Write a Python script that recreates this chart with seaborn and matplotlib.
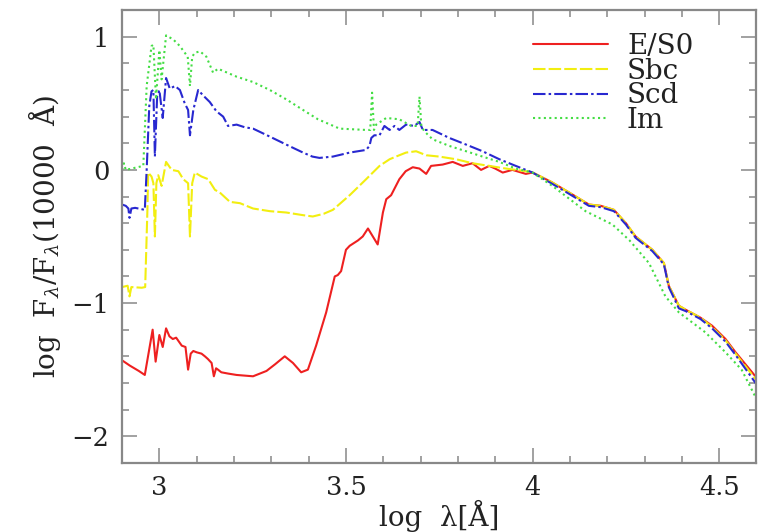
import matplotlib
matplotlib.use("Agg")
import matplotlib.pyplot as plt
import seaborn as sns
import pandas as pd
from matplotlib.ticker import MultipleLocator

# ---- data ----
es0_x = [2.900, 2.921, 2.945, 2.961, 2.982, 2.990, 3.000, 3.009, 3.018, 3.027, 3.036, 3.045,
         3.060, 3.070, 3.077, 3.084, 3.091, 3.100, 3.113, 3.122, 3.130, 3.140, 3.146, 3.152,
         3.157, 3.166, 3.185, 3.207, 3.251, 3.287, 3.310, 3.336, 3.358, 3.380, 3.398, 3.420,
         3.447, 3.470, 3.478, 3.487, 3.500, 3.510, 3.532, 3.545, 3.559, 3.572, 3.585, 3.599,
         3.608, 3.621, 3.643, 3.660, 3.679, 3.697, 3.715, 3.728, 3.759, 3.786, 3.813, 3.839,
         3.862, 3.884, 3.900, 3.920, 3.946, 3.982, 4.000, 4.050, 4.098, 4.151, 4.183, 4.218,
         4.250, 4.276, 4.321, 4.352, 4.365, 4.392, 4.410, 4.450, 4.481, 4.517, 4.544, 4.600]
es0_y = [-1.43, -1.47, -1.51, -1.54, -1.20, -1.44, -1.24, -1.33, -1.19, -1.25, -1.27, -1.26,
         -1.32, -1.33, -1.50, -1.38, -1.36, -1.37, -1.38, -1.40, -1.42, -1.45, -1.55, -1.49,
         -1.50, -1.52, -1.53, -1.54, -1.55, -1.51, -1.46, -1.40, -1.45, -1.52, -1.50, -1.32,
         -1.07, -0.80, -0.79, -0.76, -0.60, -0.57, -0.53, -0.50, -0.44, -0.50, -0.56, -0.32,
         -0.22, -0.19, -0.07, -0.01, 0.02, 0.01, -0.03, 0.03, 0.04, 0.06, 0.03, 0.05,
         0.00, 0.03, 0.01, -0.02, 0.00, -0.03, -0.02, -0.09, -0.17, -0.26, -0.27, -0.30,
         -0.40, -0.50, -0.60, -0.70, -0.87, -1.02, -1.05, -1.11, -1.17, -1.27, -1.37, -1.56]

sbc_x = [2.900, 2.915, 2.920, 2.925, 2.953, 2.962, 2.968, 2.970, 2.979, 2.984, 2.988, 2.992,
         2.997, 3.006, 3.018, 3.033, 3.051, 3.064, 3.077, 3.082, 3.088, 3.095, 3.113, 3.131,
         3.149, 3.162, 3.189, 3.216, 3.251, 3.296, 3.340, 3.385, 3.411, 3.440, 3.465, 3.510,
         3.554, 3.590, 3.617, 3.634, 3.661, 3.688, 3.715, 3.750, 3.795, 3.839, 3.884, 3.929,
         3.982, 4.000, 4.050, 4.098, 4.151, 4.183, 4.218, 4.250, 4.276, 4.321, 4.352, 4.365,
         4.392, 4.410, 4.450, 4.481, 4.517, 4.544, 4.600]
sbc_y = [-0.88, -0.87, -0.95, -0.88, -0.885, -0.88, -0.30, -0.02, -0.05, -0.10, -0.50, -0.10,
         -0.04, -0.12, 0.06, 0.00, -0.01, -0.07, -0.10, -0.50, -0.10, -0.02, -0.05, -0.07,
         -0.15, -0.17, -0.24, -0.25, -0.29, -0.31, -0.32, -0.34, -0.35, -0.33, -0.30, -0.19,
         -0.07, 0.03, 0.08, 0.10, 0.13, 0.14, 0.11, 0.10, 0.08, 0.05, 0.03, 0.01,
         -0.01, -0.02, -0.09, -0.17, -0.26, -0.27, -0.30, -0.40, -0.50, -0.60, -0.70, -0.87,
         -1.02, -1.05, -1.11, -1.18, -1.28, -1.38, -1.58]

scd_x = [2.900, 2.910, 2.917, 2.920, 2.925, 2.935, 2.961, 2.966, 2.973, 2.979, 2.984, 2.988,
         2.994, 3.000, 3.009, 3.018, 3.028, 3.042, 3.055, 3.068, 3.077, 3.082, 3.091, 3.104,
         3.117, 3.135, 3.153, 3.171, 3.184, 3.207, 3.229, 3.251, 3.296, 3.340, 3.385, 3.410,
         3.429, 3.465, 3.510, 3.554, 3.563, 3.568, 3.576, 3.590, 3.603, 3.617, 3.630, 3.643,
         3.661, 3.683, 3.697, 3.706, 3.732, 3.777, 3.822, 3.866, 3.911, 3.955, 4.000, 4.050,
         4.098, 4.151, 4.183, 4.218, 4.250, 4.276, 4.321, 4.352, 4.365, 4.392, 4.410, 4.450,
         4.481, 4.517, 4.544, 4.600]
scd_y = [-0.26, -0.27, -0.29, -0.36, -0.29, -0.285, -0.30, 0.00, 0.48, 0.59, 0.60, 0.10,
         0.55, 0.60, 0.39, 0.69, 0.61, 0.63, 0.60, 0.50, 0.45, 0.26, 0.45, 0.60,
         0.56, 0.51, 0.44, 0.40, 0.33, 0.34, 0.32, 0.31, 0.25, 0.19, 0.13, 0.10,
         0.09, 0.10, 0.13, 0.15, 0.18, 0.24, 0.26, 0.26, 0.33, 0.30, 0.33, 0.30,
         0.34, 0.33, 0.36, 0.30, 0.30, 0.24, 0.19, 0.14, 0.08, 0.03, -0.02, -0.10,
         -0.18, -0.27, -0.28, -0.31, -0.41, -0.51, -0.61, -0.71, -0.88, -1.04, -1.06, -1.12,
         -1.19, -1.29, -1.39, -1.61]

im_x = [2.900, 2.905, 2.910, 2.957, 2.966, 2.979, 2.984, 2.991, 3.000, 3.006, 3.018, 3.037,
        3.055, 3.068, 3.076, 3.082, 3.088, 3.095, 3.109, 3.126, 3.144, 3.157, 3.207, 3.251,
        3.296, 3.340, 3.385, 3.425, 3.483, 3.554, 3.565, 3.570, 3.575, 3.581, 3.608, 3.643,
        3.675, 3.692, 3.697, 3.702, 3.710, 3.732, 3.777, 3.822, 3.866, 3.911, 3.955, 4.000,
        4.053, 4.142, 4.214, 4.260, 4.312, 4.356, 4.392, 4.463, 4.517, 4.560, 4.600]
im_y = [0.00, 0.05, 0.00, 0.03, 0.63, 0.93, 0.94, 0.53, 0.90, 0.68, 1.01, 0.98,
        0.93, 0.88, 0.85, 0.63, 0.85, 0.88, 0.89, 0.85, 0.73, 0.76, 0.70, 0.66,
        0.60, 0.53, 0.45, 0.38, 0.31, 0.30, 0.30, 0.58, 0.30, 0.34, 0.39, 0.38,
        0.33, 0.33, 0.55, 0.33, 0.29, 0.23, 0.18, 0.14, 0.10, 0.06, 0.01, -0.02,
        -0.12, -0.31, -0.41, -0.53, -0.70, -0.95, -1.07, -1.22, -1.37, -1.50, -1.72]

types = ["E/S0", "Sbc", "Scd", "Im"]
xtick_vals = [3, 3.5, 4, 4.5]
xtick_labels = ["3", "3.5", "4", "4.5"]
ytick_vals = [-2, -1, 0, 1]
ytick_labels = ["\u22122", "\u22121", "0", "1"]

# ---- build long table ----
frames = []
for name, xs, ys in [("E/S0", es0_x, es0_y), ("Sbc", sbc_x, sbc_y),
                     ("Scd", scd_x, scd_y), ("Im", im_x, im_y)]:
    frames.append(pd.DataFrame({"logw": xs, "flux": ys, "type": name}))
df = pd.concat(frames, ignore_index=True)

sns.set_style("ticks")
plt.rcParams["font.family"] = ["DejaVu Serif"]
plt.rcParams["mathtext.fontset"] = "dejavuserif"

palette = {"E/S0": "#ee2020", "Sbc": "#f2ee10", "Scd": "#2828d0", "Im": "#44dd44"}
dashes = {"E/S0": "", "Sbc": (6, 1.5), "Scd": (6, 1.5, 1.2, 1.5), "Im": (1, 1.6)}

fig = plt.figure(figsize=(7.58, 5.32), dpi=100)
ax = fig.add_axes([0.161, 0.130, 0.837, 0.851])

sns.lineplot(data=df, x="logw", y="flux", hue="type", style="type",
             hue_order=types, style_order=types, palette=palette, dashes=dashes,
             estimator=None, sort=False, linewidth=1.5, ax=ax, legend=True)

ax.set_xlim(2.9, 4.6)
ax.set_ylim(-2.2, 1.2)
ax.set_xticks(xtick_vals)
ax.set_xticklabels(xtick_labels)
ax.set_yticks(ytick_vals)
ax.set_yticklabels(ytick_labels)
ax.xaxis.set_minor_locator(MultipleLocator(0.1))
ax.yaxis.set_minor_locator(MultipleLocator(0.2))
ax.tick_params(which="both", direction="in", top=True, right=True,
               color="#888888", width=1.1)
ax.tick_params(which="major", length=11, labelsize=18.5, pad=9, labelcolor="#222222")
ax.tick_params(which="minor", length=5)
for s in ax.spines.values():
    s.set_color("#888888")
    s.set_linewidth(1.6)

ax.set_xlabel("log  \u03bb[\u00c5]", fontsize=20, color="#222222", labelpad=0)
ax.set_ylabel(r"log  F$_\lambda$/F$_\lambda$(10000  Å)", fontsize=20,
              color="#222222", labelpad=6)

handles, labels = ax.get_legend_handles_labels()
leg = ax.legend(handles, labels, loc="upper left", bbox_to_anchor=(0.647, 0.95),
                frameon=False, fontsize=20, handlelength=2.7, handletextpad=0.7,
                labelspacing=-0.08, borderpad=0, borderaxespad=0)
for t in leg.get_texts():
    t.set_color("#222222")

fig.savefig("out.png", dpi=100)
